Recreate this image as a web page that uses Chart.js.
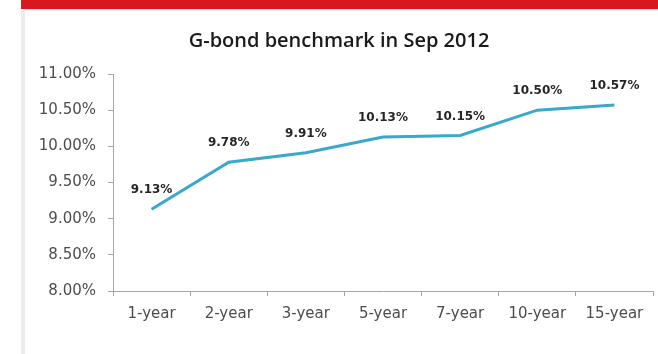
<!DOCTYPE html>
<html>
<head>
<meta charset="utf-8">
<script src="https://cdn.jsdelivr.net/npm/chart.js@4.4.0/dist/chart.umd.min.js"></script>
<style>
  html, body { margin: 0; padding: 0; background: #ffffff; width: 658px; height: 354px; overflow: hidden; }
  #redbar { position: absolute; left: 21px; top: 0; width: 637px; height: 9px; background: #d7191f; box-shadow: 0 1px 2px rgba(0,0,0,0.15); }
  #leftborder { position: absolute; left: 21px; top: 10px; width: 4px; height: 344px; background: #ececec; }
  #wrap { position: absolute; left: 25px; top: 10px; width: 633px; height: 344px; }
</style>
</head>
<body>
<div id="redbar"></div>
<div id="leftborder"></div>
<div id="wrap"><canvas id="c" width="633" height="344"></canvas></div>
<script>
const categories = ["1-year", "2-year", "3-year", "5-year", "7-year", "10-year", "15-year"];
const yields = [9.13, 9.78, 9.91, 10.13, 10.15, 10.50, 10.57];
const yTickMin = 8.0;
const yTickMax = 11.0;
const yTickStep = 0.5;
const chartTitle = "G-bond benchmark in Sep 2012";

const dataLabels = {
  id: 'dataLabels',
  afterDatasetsDraw(chart) {
    const ctx = chart.ctx;
    const meta = chart.getDatasetMeta(0);
    ctx.save();
    ctx.font = 'bold 12px "DejaVu Sans", sans-serif';
    ctx.fillStyle = '#262626';
    ctx.textAlign = 'center';
    ctx.textBaseline = 'middle';
    meta.data.forEach((pt, i) => {
      ctx.fillText(yields[i].toFixed(2) + '%', pt.x, pt.y - 19);
    });
    ctx.restore();
  }
};

new Chart(document.getElementById('c'), {
  type: 'line',
  data: {
    labels: categories,
    datasets: [{
      data: yields,
      borderColor: '#3aa8c9',
      borderWidth: 3,
      pointRadius: 0,
      tension: 0,
      fill: false
    }]
  },
  options: {
    responsive: false,
    animation: false,
    layout: { padding: { left: 0, right: 5, top: 0, bottom: 0 } },
    plugins: {
      legend: { display: false },
      tooltip: { enabled: false },
      title: {
        display: true,
        text: chartTitle,
        color: '#1a1a1a',
        font: { family: '"Open Sans", sans-serif', size: 20, weight: '600' },
        padding: { top: 19, bottom: 21 }
      }
    },
    scales: {
      x: {
        offset: true,
        grid: { offset: true, drawOnChartArea: false, drawTicks: true, tickLength: 5, color: '#a6a6a6' },
        border: { color: '#a6a6a6', width: 1 },
        ticks: { color: '#4d4d4d', font: { family: '"DejaVu Sans", sans-serif', size: 15 }, padding: 9, maxRotation: 0 },
        afterFit(scale) { scale.height = 63; }
      },
      y: {
        min: yTickMin,
        max: yTickMax,
        ticks: {
          stepSize: yTickStep,
          color: '#4d4d4d',
          font: { family: '"DejaVu Sans", sans-serif', size: 15 },
          padding: 12,
          callback: v => v.toFixed(2) + '%'
        },
        grid: { drawOnChartArea: false, drawTicks: true, tickLength: 5, color: '#a6a6a6' },
        border: { color: '#a6a6a6', width: 1 },
        afterFit(scale) { scale.width = 88; }
      }
    }
  },
  plugins: [dataLabels]
});
</script>
</body>
</html>
